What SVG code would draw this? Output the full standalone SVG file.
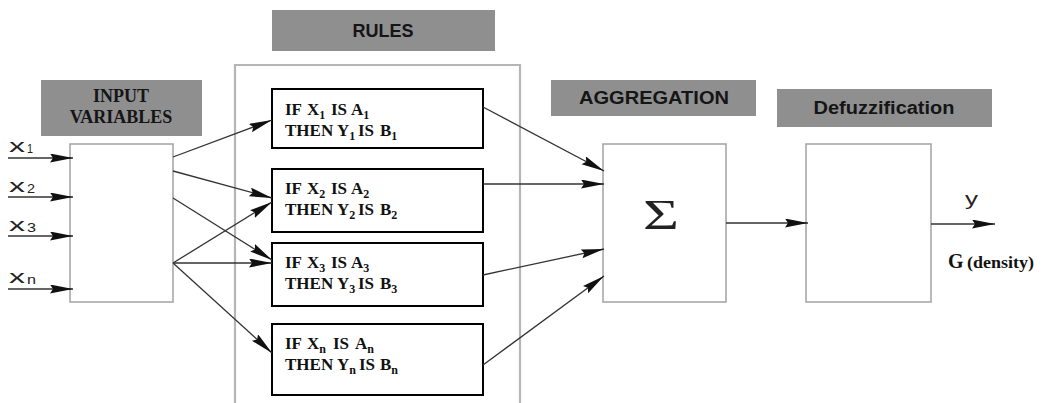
<svg xmlns="http://www.w3.org/2000/svg" width="1046" height="403" viewBox="0 0 1046 403">
<style>
.lbl{fill:#8f8f90}
.lt{font-family:"Liberation Sans",Arial,sans-serif;font-weight:bold;font-size:18px;fill:#151515;text-anchor:middle}
.lts{font-family:"Liberation Serif","Times New Roman",serif;font-weight:bold;font-size:18px;fill:#151515;text-anchor:middle}
.gbox{fill:#fff;stroke:#a8a8a8;stroke-width:1.6}
.rbox{fill:#fff;stroke:#000;stroke-width:2}
.rt{font-family:"Liberation Serif","Times New Roman",serif;font-weight:bold;font-size:17px;fill:#111}
.sub{font-size:12px}
.con{stroke:#333;stroke-width:1.3;fill:none;marker-end:url(#ah)}
.var{font-family:"Liberation Sans",Arial,sans-serif;font-size:19px;fill:#222}
.vs{font-family:"Liberation Sans",Arial,sans-serif;font-size:12.5px;fill:#222}
</style>
<defs>
<marker id="ah" markerUnits="userSpaceOnUse" markerWidth="24" markerHeight="10" refX="23" refY="4.5" orient="auto">
<path d="M0,0 L23,4.5 L0,9 L3,4.5 Z" fill="#111"/>
</marker>
</defs>

<g id="rules-frame">
<rect class="lbl" x="272" y="10" width="223" height="41"/>
<text class="lt" x="383" y="37" font-size="19">RULES</text>
<path d="M235,410 V65 H520 V410" fill="none" stroke="#b5b5b5" stroke-width="2.2"/>
</g>

<g id="input">
<rect class="lbl" x="41" y="80" width="161" height="56"/>
<text class="lts" x="121" y="102">INPUT</text>
<text class="lts" x="121" y="123">VARIABLES</text>
<rect class="gbox" x="70" y="144" width="103" height="158"/>
<text class="var" x="9" y="152" textLength="16" lengthAdjust="spacingAndGlyphs">x</text><text class="vs" x="27" y="153" textLength="6" lengthAdjust="spacingAndGlyphs">1</text>
<text class="var" x="9" y="192" textLength="16" lengthAdjust="spacingAndGlyphs">x</text><text class="vs" x="27" y="193" textLength="8" lengthAdjust="spacingAndGlyphs">2</text>
<text class="var" x="9" y="231" textLength="16" lengthAdjust="spacingAndGlyphs">x</text><text class="vs" x="27" y="232" textLength="9" lengthAdjust="spacingAndGlyphs">3</text>
<text class="var" x="9" y="283" textLength="16" lengthAdjust="spacingAndGlyphs">x</text><text class="vs" x="27" y="284" textLength="9" lengthAdjust="spacingAndGlyphs">n</text>
</g>

<g id="rule1">
<rect class="rbox" x="272" y="89" width="211" height="59"/>
<text class="rt"><tspan x="285" y="115">IF</tspan><tspan x="307">X</tspan><tspan class="sub" y="119">1</tspan><tspan x="331" y="115">IS</tspan><tspan x="351">A</tspan><tspan class="sub" y="119">1</tspan></text>
<text class="rt"><tspan x="285" y="136">THEN</tspan><tspan x="337">Y</tspan><tspan class="sub" y="140">1</tspan><tspan x="358" y="136">IS</tspan><tspan x="380">B</tspan><tspan class="sub" y="140">1</tspan></text>
</g>
<g id="rule2">
<rect class="rbox" x="272" y="169" width="211" height="63"/>
<text class="rt"><tspan x="285" y="194">IF</tspan><tspan x="307">X</tspan><tspan class="sub" y="198">2</tspan><tspan x="331" y="194">IS</tspan><tspan x="351">A</tspan><tspan class="sub" y="198">2</tspan></text>
<text class="rt"><tspan x="285" y="215">THEN</tspan><tspan x="337">Y</tspan><tspan class="sub" y="219">2</tspan><tspan x="358" y="215">IS</tspan><tspan x="380">B</tspan><tspan class="sub" y="219">2</tspan></text>
</g>
<g id="rule3">
<rect class="rbox" x="272" y="243" width="211" height="63"/>
<text class="rt"><tspan x="285" y="268">IF</tspan><tspan x="307">X</tspan><tspan class="sub" y="272">3</tspan><tspan x="331" y="268">IS</tspan><tspan x="351">A</tspan><tspan class="sub" y="272">3</tspan></text>
<text class="rt"><tspan x="285" y="289">THEN</tspan><tspan x="337">Y</tspan><tspan class="sub" y="293">3</tspan><tspan x="358" y="289">IS</tspan><tspan x="380">B</tspan><tspan class="sub" y="293">3</tspan></text>
</g>
<g id="rulen">
<rect class="rbox" x="272" y="324" width="211" height="71"/>
<text class="rt"><tspan x="285" y="349">IF</tspan><tspan x="307">X</tspan><tspan class="sub" y="353">n</tspan><tspan x="333" y="349">IS</tspan><tspan x="355">A</tspan><tspan class="sub" y="353">n</tspan></text>
<text class="rt"><tspan x="285" y="370">THEN</tspan><tspan x="337">Y</tspan><tspan class="sub" y="374">n</tspan><tspan x="359" y="370">IS</tspan><tspan x="380">B</tspan><tspan class="sub" y="374">n</tspan></text>
</g>

<g id="aggregation">
<rect class="lbl" x="551" y="80" width="205" height="36"/>
<text class="lt" x="654" y="104" textLength="150" lengthAdjust="spacingAndGlyphs">AGGREGATION</text>
<rect class="gbox" x="603" y="144" width="123" height="158"/>
<text x="661" y="229" font-family="Liberation Serif,serif" font-size="42" fill="#222" text-anchor="middle" textLength="36" lengthAdjust="spacingAndGlyphs">Σ</text>
</g>

<g id="defuzzification">
<rect class="lbl" x="777" y="89" width="215" height="38"/>
<text class="lt" x="884" y="114" textLength="141" lengthAdjust="spacingAndGlyphs">Defuzzification</text>
<rect class="gbox" x="806" y="144" width="125" height="158"/>
</g>

<g id="output">
<text class="var" x="965" y="205" textLength="13" lengthAdjust="spacingAndGlyphs">y</text>
<text x="948" y="268" font-family="Liberation Serif,serif" font-weight="bold" font-size="20" fill="#111">G</text>
<text x="967" y="268" font-family="Liberation Serif,serif" font-weight="bold" font-size="17" fill="#111" textLength="67" lengthAdjust="spacingAndGlyphs">(density)</text>
</g>

<g id="connectors">
<line class="con" x1="8" y1="158" x2="73" y2="158"/>
<line class="con" x1="8" y1="197" x2="73" y2="197"/>
<line class="con" x1="8" y1="236" x2="73" y2="236"/>
<line class="con" x1="8" y1="289" x2="73" y2="289"/>
<line class="con" x1="173" y1="157" x2="272" y2="120"/>
<line class="con" x1="173" y1="171" x2="272" y2="198"/>
<line class="con" x1="173" y1="198" x2="272" y2="260"/>
<line class="con" x1="173" y1="263" x2="272" y2="202"/>
<line class="con" x1="173" y1="263" x2="272" y2="263"/>
<line class="con" x1="173" y1="263" x2="272" y2="353"/>
<line class="con" x1="483" y1="107" x2="604" y2="171"/>
<line class="con" x1="483" y1="184" x2="604" y2="184"/>
<line class="con" x1="483" y1="275" x2="604" y2="249"/>
<line class="con" x1="483" y1="365" x2="604" y2="276"/>
<line class="con" x1="726" y1="223" x2="808" y2="223"/>
<line class="con" x1="931" y1="224" x2="995" y2="224"/>
</g>
</svg>
